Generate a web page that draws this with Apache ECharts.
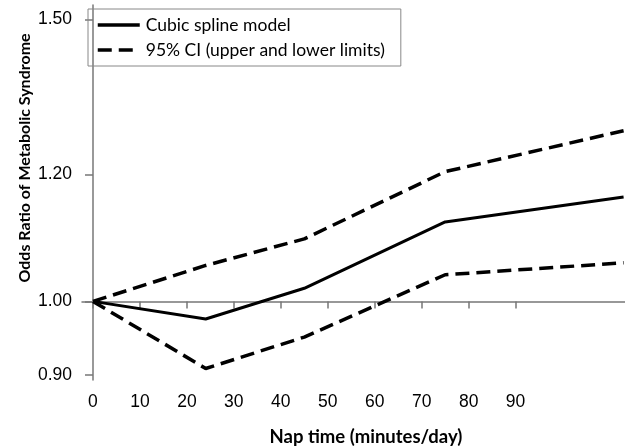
<!DOCTYPE html>
<html>
<head>
<meta charset="utf-8">
<script src="https://cdn.jsdelivr.net/npm/echarts@6/dist/echarts.min.js"></script>
<style>
  html, body { margin: 0; padding: 0; background: #fff; }
  #chart { width: 625px; height: 448px; }
</style>
</head>
<body>
<div id="chart"></div>
<script>
// nap time (minutes/day) at the spline knots
const napTime = [0, 24, 45, 75, 113]
// odds ratios
const splineOR = [1.00, 0.975, 1.019, 1.121, 1.162]
const upperOR = [1.00, 1.053, 1.094, 1.205, 1.278]
const lowerOR = [1.00, 0.908, 0.950, 1.039, 1.057]
// axis ticks
const xTicks = [0, 10, 20, 30, 40, 50, 60, 70, 80, 90]
const yTicks = [0.90, 1.00, 1.20, 1.50]

const SPLINE = 'Cubic spline model'
const CI = '95% CI (upper and lower limits)'

// y is drawn on a log scale: values go in as ln(OR)
const toPoints = (ys) => napTime.map((x, i) => [x, Math.log(ys[i])])

const chart = echarts.init(document.getElementById('chart'), null, { renderer: 'canvas' })

const axisGray = '#777'
const dashed = { color: '#000', width: 3.5, type: [14, 7], cap: 'butt' }

chart.setOption({
  animation: false,
  grid: { left: 82, right: 0, top: 5, bottom: 68 },
  legend: {
    orient: 'vertical',
    left: 88,
    top: 9,
    data: [SPLINE, CI],
    itemWidth: 42,
    itemHeight: 18,
    itemGap: 7,
    padding: [7, 16, 7, 8],
    borderColor: '#888',
    borderWidth: 1,
    selectedMode: false,
    itemStyle: { opacity: 0 },
    lineStyle: { width: 3.5 },
    textStyle: { fontFamily: 'Lato', fontSize: 17.5, color: '#000', padding: [0, 0, 0, 1] }
  },
  xAxis: {
    type: 'value',
    min: -2.34,
    max: 113.3,
    axisLine: { lineStyle: { color: axisGray, width: 1.5 } },
    axisTick: { customValues: xTicks, length: 7, lineStyle: { color: axisGray, width: 1.5 } },
    axisLabel: {
      customValues: xTicks,
      margin: 13,
      fontFamily: 'Liberation Sans',
      fontSize: 17.5,
      color: '#000'
    },
    splitLine: { show: false }
  },
  yAxis: {
    type: 'value',
    min: -0.113,
    max: 0.426,
    axisLine: { show: true, lineStyle: { color: axisGray, width: 1.5 } },
    axisTick: { show: true, customValues: yTicks.map(Math.log), length: 8, lineStyle: { color: axisGray, width: 1.5 } },
    axisLabel: {
      customValues: yTicks.map(Math.log),
      margin: 10,
      fontFamily: 'Liberation Sans',
      fontSize: 17.5,
      color: '#000',
      formatter: (v) => Math.exp(v).toFixed(2)
    },
    splitLine: { show: false }
  },
  graphic: [
    {
      type: 'text',
      x: 25,
      y: 158,
      rotation: Math.PI / 2,
      style: {
        text: 'Odds Ratio of Metabolic Syndrome',
        fontFamily: 'Lato',
        fontWeight: 'bold',
        fontSize: 16,
        fill: '#000',
        align: 'center',
        verticalAlign: 'middle'
      }
    },
    {
      type: 'text',
      x: 366,
      y: 437,
      style: {
        text: 'Nap time (minutes/day)',
        fontFamily: 'Lato',
        fontWeight: 'bold',
        fontSize: 18.5,
        fill: '#000',
        align: 'center',
        verticalAlign: 'middle'
      }
    }
  ],
  series: [
    {
      name: SPLINE,
      type: 'line',
      data: toPoints(splineOR),
      symbol: 'none',
      lineStyle: { color: '#000', width: 3 },
      itemStyle: { color: '#000' }
    },
    {
      name: CI,
      type: 'line',
      data: toPoints(upperOR),
      symbol: 'none',
      lineStyle: dashed,
      itemStyle: { color: '#000' }
    },
    {
      name: CI,
      type: 'line',
      data: toPoints(lowerOR),
      symbol: 'none',
      lineStyle: dashed,
      itemStyle: { color: '#000' }
    }
  ]
})
</script>
</body>
</html>
